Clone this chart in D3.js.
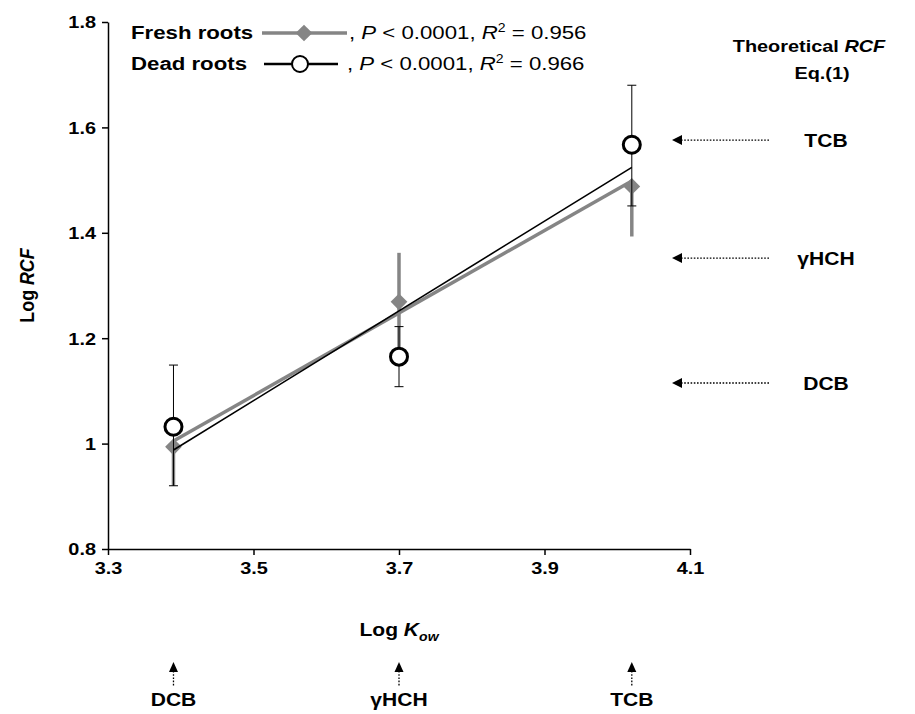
<!DOCTYPE html>
<html><head><meta charset="utf-8">
<script src="https://cdn.jsdelivr.net/npm/d3@7"></script>
<style>
body{margin:0;background:#fff;}
text{font-family:Arial,"Liberation Sans",sans-serif;}
</style></head>
<body><svg id="c" width="915" height="714"></svg>
<script>
// ---- data ----
const compounds = ["DCB", "γHCH", "TCB"];
const logKow = [3.39, 3.70, 4.02];
const freshLogRCF = [0.994, 1.269, 1.488];
const freshErrUp = [0, 0.093, 0];
const freshErrDown = [0.074, 0.093, 0.095];
const deadLogRCF = [1.032, 1.165, 1.567];
const deadErrUp = [0.117, 0.057, 0.113];
const deadErrDown = [0.112, 0.057, 0.116];
const theoreticalRCF = [1.115, 1.352, 1.576];
const xTicks = [3.3, 3.5, 3.7, 3.9, 4.1];
const yTicks = [0.8, 1.0, 1.2, 1.4, 1.6, 1.8];
const legendFresh = {name: "Fresh roots", P: "0.0001", R2: "0.956"};
const legendDead = {name: "Dead roots", P: "0.0001", R2: "0.966"};

const SX = 1.17; // horizontal text stretch of the original figure
const svg = d3.select("#c");
const x = d3.scaleLinear().domain([3.3, 4.1]).range([108, 690]);
const y = d3.scaleLinear().domain([0.8, 1.8]).range([549, 22]);
const gray = "#858585";

function txt(px, py, anchor, size, bold) {
  return svg.append("g").attr("transform", `translate(${px},${py}) scale(${SX},1)`)
    .append("text").attr("text-anchor", anchor).style("font-size", size + "px")
    .style("font-weight", bold ? "bold" : "normal");
}

// axes
const xAxis = svg.append("g").attr("transform", `translate(0,${y(0.8)})`)
  .call(d3.axisBottom(x).tickValues(xTicks).tickFormat(d3.format(".1f")).tickSize(6).tickSizeOuter(0));
const yAxis = svg.append("g").attr("transform", `translate(${x(3.3)},0)`)
  .call(d3.axisLeft(y).tickValues(yTicks).tickFormat(d3.format("~g")).tickSize(6).tickSizeOuter(0));
[xAxis, yAxis].forEach(g => {
  g.select(".domain").attr("stroke", "#000").attr("stroke-width", 1.5);
  g.selectAll(".tick line").attr("stroke", "#000").attr("stroke-width", 1.5);
  g.selectAll(".tick text").attr("fill", "#000").style("font-size", "17px").style("font-weight", "bold")
    .attr("transform", `scale(${SX},1)`);
});
xAxis.selectAll(".tick text").attr("y", 11).attr("dy", "0.85em");
yAxis.selectAll(".tick text").attr("x", -12 / SX).attr("dy", "0.35em");

// axis titles
svg.append("text").attr("transform", `translate(34,${(y(0.8)+y(1.8))/2}) rotate(-90) scale(1.05,${SX})`)
  .attr("text-anchor", "middle").style("font-size", "17px").style("font-weight", "bold")
  .call(t => { t.append("tspan").text("Log "); t.append("tspan").attr("font-style", "italic").text("RCF"); });
txt(x(3.7), 636, "middle", 18, true)
  .call(t => { t.append("tspan").text("Log ");
    t.append("tspan").attr("font-style", "italic").text("K");
    t.append("tspan").attr("font-style", "italic").attr("dy", 5).style("font-size", "12px").text("ow"); });

// regression
function fit(xs, ys) {
  const mx = d3.mean(xs), my = d3.mean(ys);
  const sxy = d3.sum(xs, (v, i) => (v - mx) * (ys[i] - my));
  const sxx = d3.sum(xs, v => (v - mx) * (v - mx));
  const b = sxy / sxx; return v => my + b * (v - mx);
}
const fF = fit(logKow, freshLogRCF), fD = fit(logKow, deadLogRCF);
const x0 = d3.min(logKow), x1 = d3.max(logKow);
const line = d3.line().x(d => x(d[0])).y(d => y(d[1]));

// fresh error bars (gray thick, no caps)
logKow.forEach((k, i) => {
  svg.append("line").attr("x1", x(k)).attr("x2", x(k))
    .attr("y1", y(freshLogRCF[i] + freshErrUp[i])).attr("y2", y(freshLogRCF[i] - freshErrDown[i]))
    .attr("stroke", gray).attr("stroke-width", 3.5);
});
svg.append("path").attr("d", line([[x0, fF(x0)], [x1, fF(x1)]]))
  .attr("fill", "none").attr("stroke", gray).attr("stroke-width", 3.5);
const diamond = d3.symbol().type(d3.symbolSquare).size(140);
logKow.forEach((k, i) => {
  svg.append("path").attr("d", diamond())
    .attr("transform", `translate(${x(k)},${y(freshLogRCF[i])}) rotate(45)`).attr("fill", gray);
});

// dead error bars (black thin, caps)
logKow.forEach((k, i) => {
  const top = y(deadLogRCF[i] + deadErrUp[i]), bot = y(deadLogRCF[i] - deadErrDown[i]);
  svg.append("line").attr("x1", x(k)).attr("x2", x(k)).attr("y1", top).attr("y2", bot)
    .attr("stroke", "#000").attr("stroke-width", 1);
  [top, bot].forEach(v => svg.append("line").attr("x1", x(k) - 4.5).attr("x2", x(k) + 4.5)
    .attr("y1", v).attr("y2", v).attr("stroke", "#000").attr("stroke-width", 1));
});
svg.append("path").attr("d", line([[x0, fD(x0)], [x1, fD(x1)]]))
  .attr("fill", "none").attr("stroke", "#000").attr("stroke-width", 1.6);
logKow.forEach((k, i) => {
  svg.append("circle").attr("cx", x(k)).attr("cy", y(deadLogRCF[i])).attr("r", 8.5)
    .attr("fill", "#fff").attr("stroke", "#000").attr("stroke-width", 3);
});

// legend
function legendRow(d, yy, isFresh) {
  txt(131, yy, "start", 19, true).text(d.name);
  if (isFresh) {
    svg.append("line").attr("x1", 262).attr("x2", 347).attr("y1", yy - 6).attr("y2", yy - 6)
      .attr("stroke", gray).attr("stroke-width", 3.5);
    svg.append("path").attr("d", diamond()).attr("transform", `translate(304,${yy - 6}) rotate(45)`).attr("fill", gray);
  } else {
    svg.append("line").attr("x1", 264).attr("x2", 338).attr("y1", yy - 6).attr("y2", yy - 6)
      .attr("stroke", "#000").attr("stroke-width", 2.5);
    svg.append("circle").attr("cx", 300).attr("cy", yy - 6).attr("r", 8)
      .attr("fill", "#fff").attr("stroke", "#000").attr("stroke-width", 2);
  }
  txt(isFresh ? 349 : 347, yy, "start", 19, false)
    .call(t => {
      t.append("tspan").text(", ");
      t.append("tspan").attr("font-style", "italic").text("P");
      t.append("tspan").text(" < " + d.P + ", ");
      t.append("tspan").attr("font-style", "italic").text("R");
      t.append("tspan").attr("dy", -7).style("font-size", "12px").text("2");
      t.append("tspan").attr("dy", 7).text(" = " + d.R2);
    });
}
legendRow(legendFresh, 39, true);
legendRow(legendDead, 70, false);

// theoretical RCF
txt(809, 52, "middle", 17, true)
  .call(t => { t.append("tspan").text("Theoretical "); t.append("tspan").attr("font-style", "italic").text("RCF"); });
txt(822, 79, "middle", 17, true).text("Eq.(1)");

// right arrows
theoreticalRCF.forEach((v, i) => {
  const yy = y(v);
  svg.append("line").attr("x1", 681).attr("x2", 770).attr("y1", yy).attr("y2", yy)
    .attr("stroke", "#000").attr("stroke-width", 1.3).attr("stroke-dasharray", "1.6,1.6");
  svg.append("path").attr("d", `M672,${yy} L682,${yy - 5} L682,${yy + 5} Z`).attr("fill", "#000");
  txt(826, yy + 7, "middle", 18, true).text(compounds[i]);
});

// bottom arrows
logKow.forEach((k, i) => {
  const xx = x(k);
  svg.append("line").attr("x1", xx).attr("x2", xx).attr("y1", 671).attr("y2", 686)
    .attr("stroke", "#000").attr("stroke-width", 1.3).attr("stroke-dasharray", "1.6,1.6");
  svg.append("path").attr("d", `M${xx},662 L${xx - 4.5},672 L${xx + 4.5},672 Z`).attr("fill", "#000");
  txt(xx, 706, "middle", 18, true).text(compounds[i]);
});
</script></body></html>
